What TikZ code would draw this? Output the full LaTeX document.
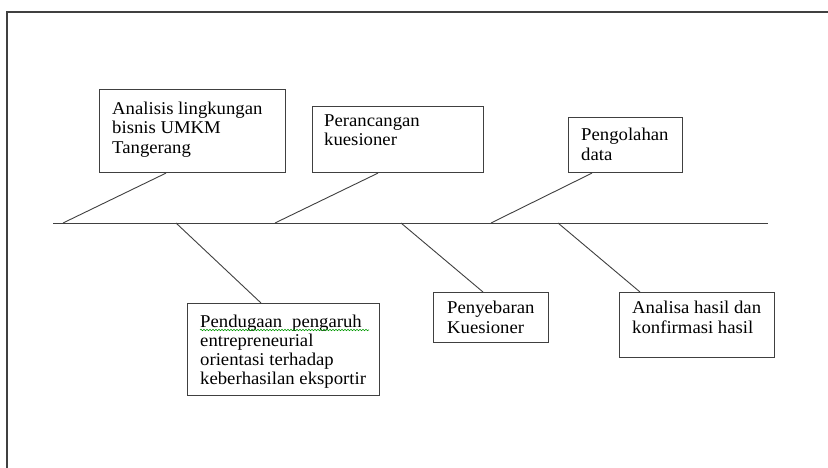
\documentclass[tikz,border=0pt]{standalone}
\usepackage{fontspec}
\setmainfont[FakeStretch=1.04]{Liberation Serif}
\usetikzlibrary{calc,decorations.pathmorphing}
\definecolor{ln}{HTML}{404040}
\tikzset{
  boxnode/.style={draw=ln, line width=1.1pt, rectangle, inner sep=0pt, anchor=north west},
  txt/.style={anchor=north west, inner sep=0pt, align=left, font=\fontsize{18}{19.5}\selectfont, text=black},
  bone/.style={draw=ln, line width=0.9pt}
}
\begin{document}
\begin{tikzpicture}[x=1pt,y=-1pt]
\useasboundingbox (0,0) rectangle (828,468);
\fill[white] (0,0) rectangle (828,468);
% frame
\draw[ln, line width=1.1pt] (7,468) -- (7,12) -- (828,12);
% boxes
\node[boxnode, minimum width=186pt, minimum height=83pt] (b1) at (99,89) {};
\node[boxnode, minimum width=171pt, minimum height=66pt] (b2) at (312,106) {};
\node[boxnode, minimum width=114pt, minimum height=55pt] (b3) at (568,117) {};
\node[boxnode, minimum width=192pt, minimum height=92pt] (b4) at (187,303) {};
\node[boxnode, minimum width=115pt, minimum height=50pt] (b5) at (433,292) {};
\node[boxnode, minimum width=155pt, minimum height=65pt] (b6) at (619,292) {};
% texts
\node[txt] (t1) at (112,101.5) {Analisis lingkungan\\bisnis UMKM\\Tangerang};
\node[txt] (t2) at (324,114.5) {Perancangan\\kuesioner};
\node[txt] (t3) at (581,128) {Pengolahan\\data};
\node[txt, font=\fontsize{18}{19}\selectfont] (t4) at (200,314.5) {\makebox[92pt][l]{Pendugaan}pengaruh\\entrepreneurial\\orientasi terhadap\\keberhasilan eksportir};
\node[txt] (t5) at (447,301) {Penyebaran\\Kuesioner};
\node[txt] (t6) at (632,301) {Analisa hasil  dan\\konfirmasi hasil};
% squiggle
\draw[green!60!black, line width=0.6pt, decorate, decoration={snake, amplitude=0.7pt, segment length=3pt}] (200,330) -- (369,330);
% spine
\coordinate (s0) at (53,223);
\coordinate (s1) at (768,223);
\draw[bone] (s0) -- (s1);
\coordinate (u1) at (63,223);
\coordinate (u2) at (275,223);
\coordinate (u3) at (491,223);
\coordinate (d1) at (176,223);
\coordinate (d2) at (401,223);
\coordinate (d3) at (558,223);
\draw[bone] (u1) -- (b1.south west -| 166,0);
\draw[bone] (u2) -- (b2.south west -| 378,0);
\draw[bone] (u3) -- (b3.south west -| 592,0);
\draw[bone] (d1) -- (b4.north west -| 261,0);
\draw[bone] (d2) -- (b5.north west -| 483,0);
\draw[bone] (d3) -- (b6.north west -| 640,0);
\end{tikzpicture}
\end{document}
